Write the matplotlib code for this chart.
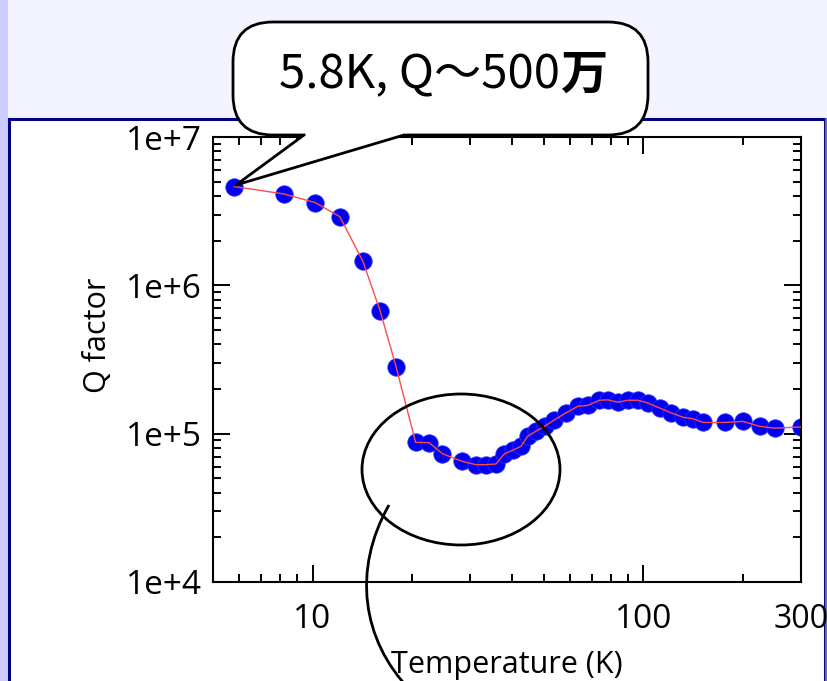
import matplotlib
matplotlib.use("Agg")
import matplotlib.pyplot as plt
from matplotlib.patches import Rectangle, FancyBboxPatch, Polygon, Ellipse, PathPatch
from matplotlib.path import Path
from matplotlib.lines import Line2D
from matplotlib.ticker import FixedLocator, FuncFormatter, NullFormatter
import matplotlib.transforms as mtransforms

# Temperature sweep (K) and measured quality factor
temperature = [5.8, 8.2, 10.2, 12.1, 14.2, 16.0, 17.9, 20.5, 22.5, 24.7,
               28.4, 31.2, 33.4, 35.9, 38.0, 40.3, 42.7, 44.7, 47.4, 50.3,
               53.9, 58.4, 63.4, 67.9, 73.7, 78.2, 83.8, 89.9, 96.3, 103.3,
               112.0, 121.5, 131.9, 141.5, 151.7, 176.3, 200.3, 225.0, 249.8, 300.0]
q_factor = [4.63e6, 4.13e6, 3.61e6, 2.90e6, 1.45e6, 6.76e5, 2.81e5, 8.73e4, 8.70e4, 7.33e4,
            6.50e4, 6.18e4, 6.18e4, 6.25e4, 7.30e4, 7.73e4, 8.22e4, 9.60e4, 1.04e5, 1.12e5,
            1.24e5, 1.38e5, 1.53e5, 1.55e5, 1.68e5, 1.69e5, 1.63e5, 1.68e5, 1.68e5, 1.61e5,
            1.49e5, 1.38e5, 1.29e5, 1.26e5, 1.19e5, 1.19e5, 1.21e5, 1.12e5, 1.09e5, 1.11e5]

x_major = [10, 100]
x_minor = [6, 7, 8, 9, 20, 30, 40, 50, 60, 70, 80, 90, 200, 300]
y_major = [1e4, 1e5, 1e6, 1e7]
y_labels = ["1e+4", "1e+5", "1e+6", "1e+7"]

callout_text = "5.8K, Q\uff5e500"
callout_unit = "\u4e07"

plt.rcParams["font.family"] = ["Open Sans", "DejaVu Sans"]

W, H = 827, 681
fig = plt.figure(figsize=(W / 100, H / 100), dpi=100, facecolor="#f4f4fe")

# pixel coordinates with origin at top-left
pix = mtransforms.Affine2D().scale(1 / W, -1 / H).translate(0, 1) + fig.transFigure

# slide background: side strip, white content panel
fig.add_artist(Rectangle((0, 0), 8, H, transform=pix, facecolor="#ccccff",
                         edgecolor="none", zorder=-5))
fig.add_artist(Rectangle((9, 119), 816, H, transform=pix, facecolor="white",
                         edgecolor="#000080", linewidth=2.2, zorder=-4))
fig.add_artist(Line2D([826, 826], [119, H], transform=pix, color="#6a6aa8",
                      linewidth=1.5, zorder=-3))

ax = fig.add_axes([213 / W, (H - 582) / H, (801 - 213) / W, (582 - 137) / H])
ax.set_facecolor("white")
ax.set_xscale("log")
ax.set_yscale("log")
ax.set_xlim(5, 300)
ax.set_ylim(1e4, 1e7)

ax.plot(temperature, q_factor, linestyle="none", marker="o", markersize=12.5,
        markerfacecolor="#0000ee", markeredgecolor="#2a2aff", markeredgewidth=0.6, zorder=2)
ax.plot(temperature, q_factor, color="#ff4a4a", linewidth=1.0, zorder=3)

ax.xaxis.set_major_locator(FixedLocator(x_major))
ax.xaxis.set_minor_locator(FixedLocator(x_minor))
ax.xaxis.set_major_formatter(FuncFormatter(lambda v, p: f"{v:g}"))
ax.xaxis.set_minor_formatter(FuncFormatter(lambda v, p: "300" if abs(v - 300) < 1 else ""))
ax.yaxis.set_major_locator(FixedLocator(y_major))
ax.yaxis.set_major_formatter(FuncFormatter(lambda v, p: y_labels[y_major.index(v)] if v in y_major else ""))
ax.yaxis.set_minor_formatter(NullFormatter())

ax.tick_params(which="both", direction="in", top=True, right=True, color="black",
               labelsize=24, width=1.4)
ax.tick_params(which="major", length=12)
ax.tick_params(which="minor", length=6)
ax.tick_params(axis="x", which="both", pad=15)
ax.tick_params(axis="y", which="both", pad=8)
for lab in ax.get_xticklabels(minor=True):
    lab.set_fontsize(23)
for s in ax.spines.values():
    s.set_linewidth(1.5)

ax.set_xlabel("Temperature (K)", fontsize=22)
ax.set_ylabel("Q factor", fontsize=22)
ax.xaxis.set_label_coords(0.5, -0.152)
ax.yaxis.set_label_coords(-0.17, 0.555)

# speech bubble pointing at the lowest-temperature point
fig.add_artist(FancyBboxPatch((233, 22), 415, 113, boxstyle="round,pad=0,rounding_size=40",
                              transform=pix, facecolor="white", edgecolor="black",
                              linewidth=2.0, zorder=10))
fig.add_artist(Polygon([(300, 130), (304, 135), (236, 185), (404, 135), (410, 130)],
                       closed=True, transform=pix, facecolor="white", edgecolor="none",
                       zorder=11))
fig.add_artist(Line2D([304, 236, 404], [135, 185, 135], transform=pix, color="black",
                      linewidth=2.0, zorder=12))
fig.text(560 / W, 1 - 75 / H, callout_text, fontsize=34, ha="right", va="center",
         fontfamily=["Noto Sans CJK JP", "DejaVu Sans"], zorder=13)
fig.text(560 / W, 1 - 75 / H, callout_unit, fontsize=34, ha="left", va="center",
         fontweight="bold", fontfamily=["Noto Sans CJK JP", "DejaVu Sans"], zorder=13)

# highlight of the low-temperature dip
fig.add_artist(Ellipse((461, 469.5), 198, 151, transform=pix, fill=False,
                       edgecolor="black", linewidth=2.0, zorder=10))
curve = Path([(389, 505), (352, 570), (362, 640), (410, 690)],
             [Path.MOVETO, Path.CURVE4, Path.CURVE4, Path.CURVE4])
fig.add_artist(PathPatch(curve, transform=pix, fill=False, edgecolor="black",
                         linewidth=2.0, zorder=10))

fig.savefig("out.png", dpi=100, facecolor=fig.get_facecolor())
